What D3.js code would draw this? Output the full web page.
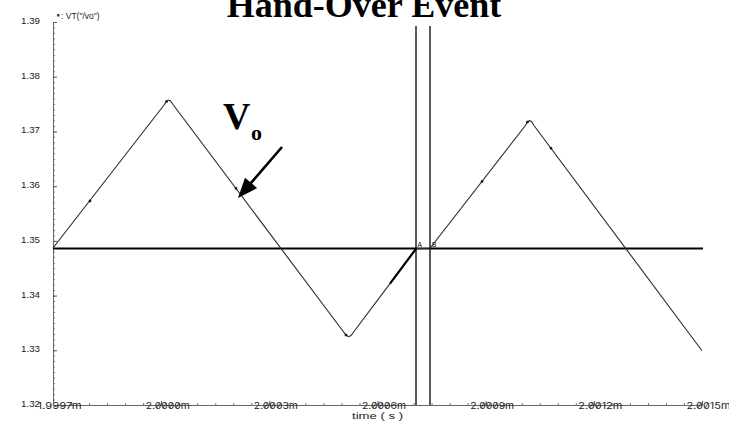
<!DOCTYPE html>
<html>
<head>
<meta charset="utf-8">
<script src="https://cdn.jsdelivr.net/npm/d3@7"></script>
<style>
  body { margin: 0; background: #fff; }
  svg { display: block; }
  .ax text { fill: #222; }
</style>
</head>
<body>
<svg id="chart" width="729" height="426"></svg>
<script>
// Waveform VT("/vo") — time in ms, voltage in V
const timeMs = [1.9997, 2.0000080, 2.0000148, 2.0000203, 2.0000259, 2.0000328,
                2.0005040, 2.0005126, 2.0005196, 2.0005265, 2.0005348,
                2.0006347, 2.0007068, 2.0007456,
                2.0010091, 2.0010160, 2.0010216, 2.0010271, 2.0010340, 2.0015];
const vo     = [1.34869, 1.37483, 1.37547, 1.37574, 1.37556, 1.37492,
                1.33352, 1.33279, 1.33248, 1.33270, 1.33343,
                1.34219, 1.34855, 1.34864,
                1.37099, 1.37172, 1.37196, 1.37181, 1.37108, 1.32992];

// sample markers on the trace
const markTimeMs = [1.9998026, 2.0000148, 2.0002075, 2.0005126, 2.0008900, 2.0010160, 2.0010812];
const markVo     = [1.35728, 1.37547, 1.35959, 1.33279, 1.36085, 1.37172, 1.36693];

// densely sampled stretch just before cursor A
const denseFrom = 2.0006347, denseTo = 2.0007068;

const xTicks = [1.9997, 2.0000, 2.0003, 2.0006, 2.0009, 2.0012, 2.0015];
const yTicks = [1.32, 1.33, 1.34, 1.35, 1.36, 1.37, 1.38, 1.39];
const xMinorStep = 0.00005;
const yMinorStep = 0.001;

const refLevel = 1.3486;          // horizontal reference line
const cursorA = 2.0007068;        // vertical cursors
const cursorB = 2.0007456;
const cursorTop = 1.38927;

const titleText = "Hand-Over Event";
const xLabel = "time ( s )";
const traceName = ': VT("/vo")';

const svg = d3.select("#chart");

const x = d3.scaleLinear().domain([1.9997, 2.0015]).range([53, 702]);
const y = d3.scaleLinear().domain([1.32, 1.39]).range([405, 22]);

// title
svg.append("text")
  .attr("x", 364).attr("y", 17)
  .attr("text-anchor", "middle")
  .style("font-family", "'Liberation Serif', 'Times New Roman', serif")
  .style("font-weight", "bold")
  .style("font-size", "36px")
  .text(titleText);

// minor ticks
const xMinor = d3.range(0, 37).map(i => +(1.9997 + i * xMinorStep).toFixed(6));
const yMinor = d3.range(0, 71).map(i => +(1.32 + i * yMinorStep).toFixed(4));

const xMinorG = svg.append("g").attr("class", "ax")
  .attr("transform", "translate(0,405)")
  .call(d3.axisBottom(x).tickValues(xMinor).tickSizeInner(-2).tickSizeOuter(0).tickFormat(""));
xMinorG.select(".domain").remove();
xMinorG.selectAll("line").attr("stroke", "#777");

const yMinorG = svg.append("g").attr("class", "ax")
  .attr("transform", "translate(53,0)")
  .call(d3.axisLeft(y).tickValues(yMinor).tickSizeInner(-2).tickSizeOuter(0).tickFormat(""));
yMinorG.select(".domain").remove();
yMinorG.selectAll("line").attr("stroke", "#777");

// x axis
const xAxisG = svg.append("g").attr("class", "ax")
  .attr("transform", "translate(0,405)")
  .call(d3.axisBottom(x).tickValues(xTicks).tickSizeInner(-4).tickSizeOuter(0)
    .tickFormat(d => d.toFixed(4) + "m"));
xAxisG.select(".domain").attr("stroke", "#666");
xAxisG.selectAll("line").attr("stroke", "#555");
xAxisG.selectAll("text")
  .attr("x", -16).attr("y", 3.8).attr("dy", null)
  .attr("text-anchor", "start")
  .attr("textLength", 44).attr("lengthAdjust", "spacingAndGlyphs")
  .style("font-family", "Inter, 'DejaVu Sans', sans-serif")
  .style("font-feature-settings", "'zero' 1")
  .style("font-size", "9.5px")
  .style("fill", "#222");

// y axis
const yAxisG = svg.append("g").attr("class", "ax")
  .attr("transform", "translate(53,0)")
  .call(d3.axisLeft(y).tickValues(yTicks).tickSizeInner(-4).tickSizeOuter(0).tickPadding(13)
    .tickFormat(d3.format(".2f")));
yAxisG.select(".domain").attr("stroke", "#666");
yAxisG.selectAll("line").attr("stroke", "#555");
yAxisG.selectAll("text")
  .attr("dy", "0.15em")
  .attr("textLength", 19).attr("lengthAdjust", "spacingAndGlyphs")
  .style("font-family", "'Liberation Sans', Arial, sans-serif")
  .style("font-size", "9.5px")
  .style("fill", "#222");

// x axis title
svg.append("text")
  .attr("x", 352).attr("y", 418.5)
  .attr("textLength", 51).attr("lengthAdjust", "spacingAndGlyphs")
  .style("font-family", "'Liberation Sans', Arial, sans-serif")
  .style("font-size", "9px")
  .style("fill", "#222")
  .text(xLabel);

// trace name
svg.append("rect").attr("x", 57).attr("y", 14).attr("width", 2.5).attr("height", 2.5).attr("fill", "#444");
svg.append("text")
  .attr("x", 61).attr("y", 19)
  .style("font-family", "'Liberation Sans', Arial, sans-serif")
  .style("font-size", "8.5px")
  .style("fill", "#222")
  .text(traceName);

// reference level
svg.append("line")
  .attr("x1", x(1.9997)).attr("x2", x(2.0015) + 1)
  .attr("y1", y(refLevel)).attr("y2", y(refLevel))
  .attr("stroke", "#000").attr("stroke-width", 2);

// cursors
[cursorA, cursorB].forEach(c => {
  svg.append("line")
    .attr("x1", x(c)).attr("x2", x(c))
    .attr("y1", y(cursorTop)).attr("y2", y(1.32))
    .attr("stroke", "#000").attr("stroke-width", 1.3);
});
svg.append("text").attr("x", x(cursorA) + 1.5).attr("y", y(refLevel) - 1.5)
  .style("font-family", "'Liberation Sans', Arial, sans-serif").style("font-size", "6.5px").text("A");
svg.append("text").attr("x", x(cursorB) + 2).attr("y", y(refLevel) - 1.5)
  .style("font-family", "'Liberation Sans', Arial, sans-serif").style("font-size", "6.5px").text("B");

// trace
const pts = timeMs.map((t, i) => ({ t, v: vo[i] }));
const line = d3.line().x(d => x(d.t)).y(d => y(d.v));
svg.append("path")
  .datum(pts)
  .attr("d", line)
  .attr("fill", "none")
  .attr("stroke", "#2a2a2a")
  .attr("stroke-width", 1.1);

svg.append("path")
  .datum(pts.filter(d => d.t >= denseFrom && d.t <= denseTo))
  .attr("d", line)
  .attr("fill", "none")
  .attr("stroke", "#000")
  .attr("stroke-width", 2.2);

svg.selectAll("rect.mk")
  .data(markTimeMs.map((t, i) => ({ t, v: markVo[i] })))
  .join("rect").attr("class", "mk")
  .attr("x", d => x(d.t) - 1.2).attr("y", d => y(d.v) - 1.2)
  .attr("width", 2.4).attr("height", 2.4)
  .attr("fill", "#111");

// V_o annotation with arrow
const ann = svg.append("text")
  .attr("x", 223).attr("y", 129)
  .style("font-family", "'Liberation Serif', 'Times New Roman', serif")
  .style("font-weight", "bold");
ann.append("tspan").style("font-size", "38px").text("V");
ann.append("tspan").attr("x", 251).attr("y", 140).style("font-size", "22px").text("o");

const a0 = [282, 147], a1 = [238, 198];
const len = Math.hypot(a1[0] - a0[0], a1[1] - a0[1]);
const ux = (a1[0] - a0[0]) / len, uy = (a1[1] - a0[1]) / len;
const headL = 20, headW = 8;
const bx = a1[0] - ux * headL, by = a1[1] - uy * headL;
svg.append("line")
  .attr("x1", a0[0]).attr("y1", a0[1]).attr("x2", bx + ux * 2).attr("y2", by + uy * 2)
  .attr("stroke", "#000").attr("stroke-width", 2.6);
svg.append("path")
  .attr("d", d3.line()([a1, [bx - uy * headW, by + ux * headW], [bx + uy * headW, by - ux * headW]]) + "Z")
  .attr("fill", "#000");
</script>
</body>
</html>
